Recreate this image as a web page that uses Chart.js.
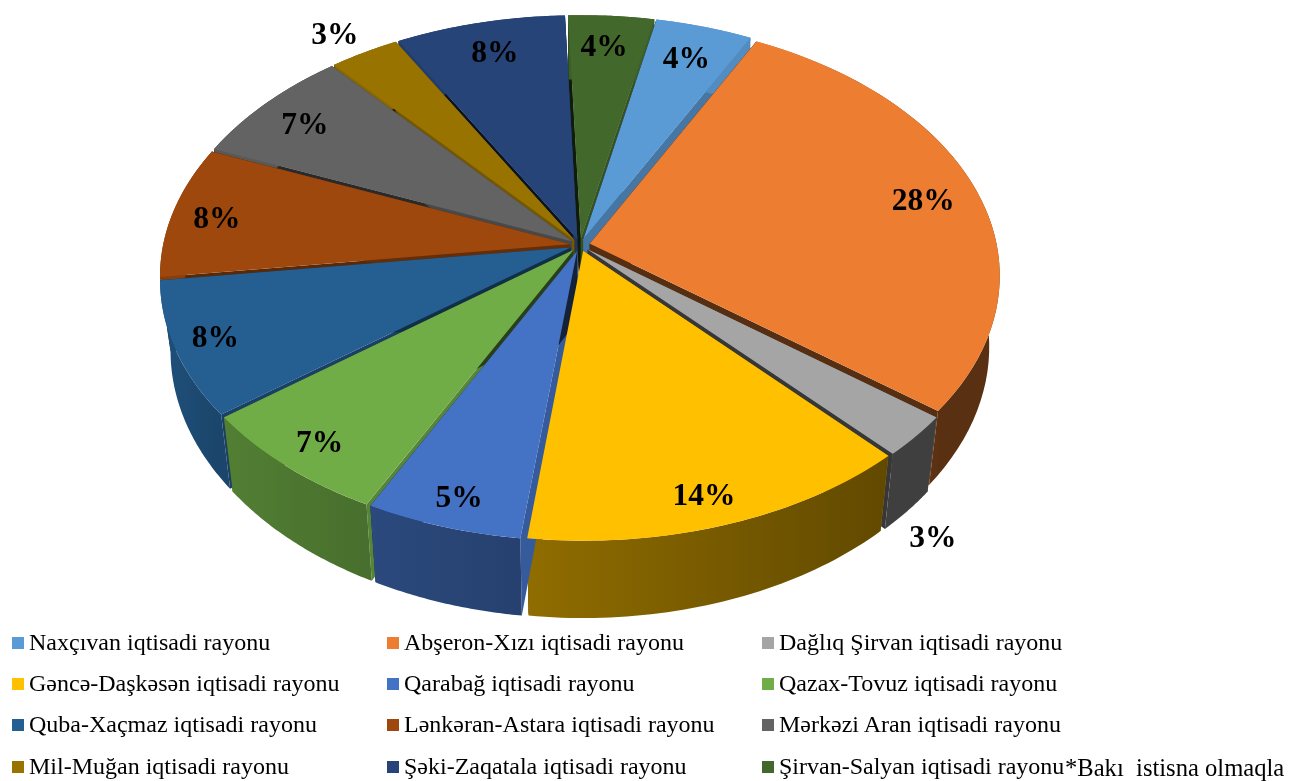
<!DOCTYPE html>
<html lang="az">
<head>
<meta charset="utf-8">
<title>İqtisadi rayonlar</title>
<script src="https://cdn.jsdelivr.net/npm/chart.js@4/dist/chart.umd.js"></script>
<style>
  html, body { margin: 0; padding: 0; background: #fff; overflow: hidden; }
  #wrap { position: relative; width: 1306px; height: 781px; font-family: "Liberation Serif", serif; color: #000; }
  #pie { position: absolute; left: 0; top: 0; }
  .swatch { position: absolute; width: 12px; height: 12px; }
  .item { position: absolute; font-size: 24px; line-height: 26px; white-space: pre; }
  #note { position: absolute; left: 1065px; top: 753px; font-size: 24.6px; line-height: 30px; white-space: pre; }
</style>
</head>
<body>
<div id="wrap">
  <canvas id="pie" width="1306" height="781"></canvas>
  <div id="note">*Bakı  istisna olmaqla</div>
</div>
<script>
const rayonlar = [
  'Naxçıvan iqtisadi rayonu', 'Abşeron-Xızı iqtisadi rayonu', 'Dağlıq Şirvan iqtisadi rayonu',
  'Gəncə-Daşkəsən iqtisadi rayonu', 'Qarabağ iqtisadi rayonu', 'Qazax-Tovuz iqtisadi rayonu',
  'Quba-Xaçmaz iqtisadi rayonu', 'Lənkəran-Astara iqtisadi rayonu', 'Mərkəzi Aran iqtisadi rayonu',
  'Mil-Muğan iqtisadi rayonu', 'Şəki-Zaqatala iqtisadi rayonu', 'Şirvan-Salyan iqtisadi rayonu'
];
const paylar = [4.3, 27.9, 2.6, 13.8, 5.49, 7.1, 8.4, 8.3, 7.49, 3.1, 7.55, 3.8];
const rengler = ['#5b9bd5', '#ed7d31', '#a5a5a5', '#ffc000', '#4472c4', '#70ad47',
  '#255e91', '#9e480e', '#636363', '#997300', '#264478', '#43682b'];

// label placement, as a share of the radius and a shift in degrees
const etiketRadius = [0.864, 0.881, 1.265, 0.923, 0.928, 0.921, 0.926, 0.91, 0.88, 1.147, 0.874, 0.874];
const etiketDonme = [0, 0.6, 10.6, 0.8, -0.3, -0.2, 0.35, -0.85, -0.8, -1, 0.3, -0.55];

// perspective of the pie plane on the page
const CX = 580, CY = 245, PX = 407, PY = 252.6, PERSP = 0.1228;
const ALT_X = 0.975, PATLAMA = 10;

// legend
const sutunlar = [12, 387, 762];
const setirler = [637, 678, 719, 761];
const wrap = document.getElementById('wrap');
rayonlar.forEach((ad, i) => {
  const x = sutunlar[i % 3], y = setirler[Math.floor(i / 3)];
  const sw = document.createElement('div');
  sw.className = 'swatch';
  sw.style.cssText = `left:${x}px;top:${y}px;background:${rengler[i]}`;
  const t = document.createElement('div');
  t.className = 'item';
  t.textContent = ad;
  t.style.left = (x + 17) + 'px';
  t.style.top = (y - 8) + 'px';
  wrap.appendChild(sw);
  wrap.appendChild(t);
});

function sade(hex, k) {
  const n = parseInt(hex.slice(1), 16);
  return `rgb(${Math.round((n >> 16) * k)},${Math.round(((n >> 8) & 255) * k)},${Math.round((n & 255) * k)})`;
}

// shade of the outer wall by angle from the top, dark on the right and lighter on the left
function divarKoef(a) {
  let d = ((a + Math.PI / 2) * 180 / Math.PI) % 360;
  if (d < 0) d += 360;
  if (d < 60) d = 360;
  return Math.min(0.9, Math.max(0.38, 0.37 + (d - 134) * 0.0037));
}

const pie3d = {
  id: 'pie3d',
  proj(chart, px, py) {
    const el = chart.getDatasetMeta(0).data[0];
    const u = (px - el.x) / el.outerRadius, v = (py - el.y) / el.outerRadius;
    const w = 1 / (1 - PERSP * v);
    return { x: CX + PX * u * w, y: CY + PY * v * w };
  },
  alt(p) {
    return { x: CX + (p.x - CX) * ALT_X, y: p.y + 70 + (p.y - CY) * 0.025 };
  },
  beforeDatasetDraw(chart) {
    const ctx = chart.ctx;
    const meta = chart.getDatasetMeta(0);
    const first = meta.data[0];
    const r = first.outerRadius;
    const ayrilma = PATLAMA * r / PX;
    const dilimler = meta.data.map((el, i) => {
      const mid = (el.startAngle + el.endAngle) / 2;
      return { el, i, mid, dx: Math.cos(mid) * ayrilma, dy: Math.sin(mid) * ayrilma };
    });
    // back slices first
    dilimler.sort((a, b) => Math.sin(a.mid) - Math.sin(b.mid));
    const poly = (pts, fill) => {
      ctx.fillStyle = fill;
      ctx.beginPath();
      pts.forEach((p, k) => (k ? ctx.lineTo(p.x, p.y) : ctx.moveTo(p.x, p.y)));
      ctx.closePath();
      ctx.fill();
    };
    dilimler.forEach(d => {
      const { el, i, dx, dy } = d;
      const ox = el.x + dx, oy = el.y + dy;
      const rim = a => this.proj(chart, ox + Math.cos(a) * el.outerRadius, oy + Math.sin(a) * el.outerRadius);
      const apex = this.proj(chart, ox, oy);
      [[el.startAngle, -1], [el.endAngle, 1]].forEach(([a, yon]) => {
        const nx = -Math.sin(a) * yon;
        const p = rim(a);
        const renk = sade(rengler[i], 0.53 + 0.27 * nx);
        poly([apex, p, this.alt(p), this.alt(apex)], renk);
        // far half: drop straight down too, or the narrow gaps show white near the rim
        if (p.y < CY) poly([apex, p, { x: p.x, y: p.y + 70 }, { x: apex.x, y: apex.y + 70 }], renk);
      });
      const ust = [], alt = [];
      for (let k = 0; k <= 48; k++) {
        const a = el.startAngle + (el.endAngle - el.startAngle) * k / 48;
        const p = rim(a);
        ust.push(p);
        alt.unshift(this.alt(p));
      }
      const p0 = ust[0], p1 = ust[48];
      const grad = ctx.createLinearGradient(p0.x, 0, p1.x === p0.x ? p0.x + 1 : p1.x, 0);
      grad.addColorStop(0, sade(rengler[i], divarKoef(el.startAngle)));
      grad.addColorStop(1, sade(rengler[i], divarKoef(el.endAngle)));
      poly(ust.concat(alt), grad);
    });
    // top faces: the library's arcs, one pixel row at a time so the perspective holds
    const vOf = Y => (Y - CY) / (PY + PERSP * (Y - CY));
    const yUst = Math.floor(this.proj(chart, first.x, first.y - r - ayrilma).y) - 1;
    const yAlt = Math.ceil(this.proj(chart, first.x, first.y + r + ayrilma).y) + 1;
    for (let Y = yUst; Y < yAlt; Y++) {
      const v0 = vOf(Y), v1 = vOf(Y + 1);
      const w = 1 / (1 - PERSP * (v0 + v1) / 2);
      ctx.save();
      ctx.beginPath();
      ctx.rect(0, Y, chart.width, 1);
      ctx.clip();
      ctx.translate(CX, Y);
      ctx.scale(PX * w / r, 1 / ((v1 - v0) * r));
      ctx.translate(-first.x, -(first.y + v0 * r));
      dilimler.forEach(d => {
        ctx.save();
        ctx.translate(d.dx, d.dy);
        d.el.draw(ctx);
        ctx.restore();
      });
      ctx.restore();
    }
    return false;
  },
  afterDraw(chart) {
    const ctx = chart.ctx;
    ctx.save();
    ctx.font = 'bold 31.5px "Liberation Serif", serif';
    ctx.fillStyle = '#000';
    ctx.textAlign = 'center';
    ctx.textBaseline = 'middle';
    chart.getDatasetMeta(0).data.forEach((el, i) => {
      const a = (el.startAngle + el.endAngle) / 2 + etiketDonme[i] * Math.PI / 180;
      const r = el.outerRadius * etiketRadius[i];
      const p = this.proj(chart, el.x + Math.cos(a) * r, el.y + Math.sin(a) * r);
      ctx.fillText(Math.round(paylar[i]) + '%', p.x, p.y + 2);
    });
    ctx.restore();
  }
};

new Chart(document.getElementById('pie').getContext('2d'), {
  type: 'pie',
  data: {
    labels: rayonlar,
    datasets: [{
      data: paylar,
      backgroundColor: rengler,
      borderWidth: 0
    }]
  },
  options: {
    responsive: false,
    animation: false,
    rotation: 11.7,
    events: [],
    plugins: { legend: { display: false }, tooltip: { enabled: false } }
  },
  plugins: [pie3d]
});
</script>
</body>
</html>
